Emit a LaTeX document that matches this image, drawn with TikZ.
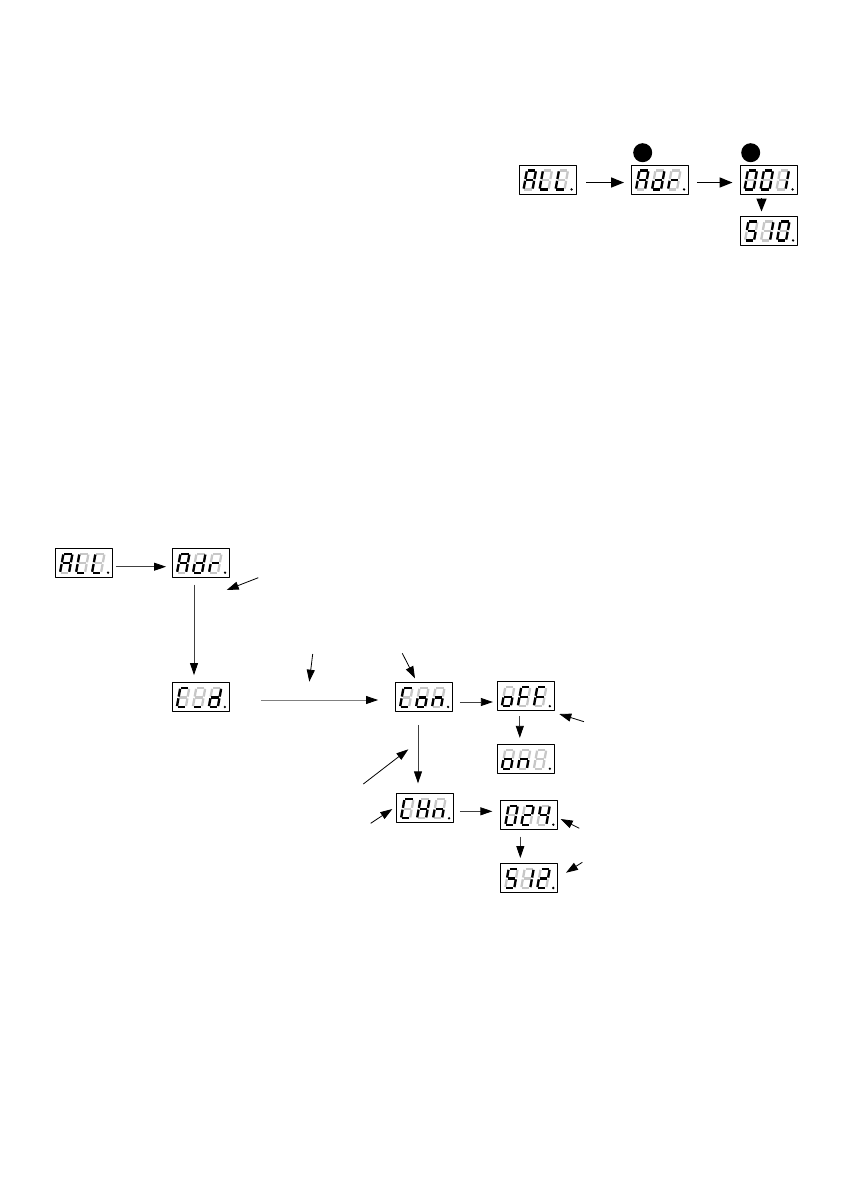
\documentclass[tikz,border=0pt]{standalone}
\usetikzlibrary{arrows.meta,calc}

% one slanted seven-segment digit, #2 = list of lit segments
\newcommand\segdigit[2]{%
  \begin{scope}[shift={#1}, xslant=0.18]
    \foreach \s/\p/\q in {a/{0.9,-19}/{8.1,-19}, b/{9,-18.1}/{9,-10.4},
        c/{9,-8.6}/{9,-0.9}, d/{0.9,0}/{8.1,0}, e/{0,-0.9}/{0,-8.6},
        f/{0,-10.4}/{0,-18.1}, g/{0.9,-9.5}/{8.1,-9.5}}{
      \draw[segoff] (\p) -- (\q);
      \coordinate (\s0) at (\p);
      \coordinate (\s1) at (\q);
    }
    \coordinate (z0) at (0,0); \coordinate (z1) at (0,0);
    \foreach \s in #2 \draw[segon] (\s0) -- (\s1);
  \end{scope}}

% display box with three digits and a point
\newcommand\dispbox[5]{%
  \node[disp] (#1) at (#2) {};
  \segdigit{($(#1.south west)+(5,-5)$)}{#3}
  \segdigit{($(#1.south west)+(21,-5)$)}{#4}
  \segdigit{($(#1.south west)+(37,-5)$)}{#5}
  \fill ($(#1.south west)+(53,-5)$) circle (1.3);}

\newcommand\sgA{a,b,c,e,f,g}
\newcommand\sgL{d,e,f}
\newcommand\sgd{b,c,d,e,g}
\newcommand\sgr{e,g}
\newcommand\sgzero{a,b,c,d,e,f}
\newcommand\sgone{b,c}
\newcommand\sgfive{a,c,d,f,g}
\newcommand\sgC{a,d,e,f}
\newcommand\sgbar{d}
\newcommand\sgo{c,d,e,g}
\newcommand\sgn{c,e,g}
\newcommand\sgF{a,e,f,g}
\newcommand\sgH{b,c,e,f,g}
\newcommand\sgtwo{a,b,d,e,g}
\newcommand\sgfour{b,c,f,g}
\newcommand\sgblank{z}

\begin{document}
\begin{tikzpicture}[x=1pt, y=-1pt, line join=round,
    disp/.style={draw, line width=0.9pt, minimum width=57pt, minimum height=29pt, inner sep=0pt},
    segoff/.style={line width=2.3pt, black!22},
    segon/.style={line width=2.3pt, black},
    btn/.style={circle, fill=black, minimum size=19pt, inner sep=0pt},
    bigarr/.style={line width=1.3pt, -{Triangle[length=13pt,width=10pt]}},
    arr/.style={line width=0.8pt, black!75, -{Triangle[length=12pt,width=8pt,color=black]}}]
\useasboundingbox (0,0) rectangle (842,1191);

% upper sequence
\dispbox{allT}{547.5,179.5}{\sgA}{\sgL}{\sgL}
\dispbox{adrT}{660,179.5}{\sgA}{\sgd}{\sgr}
\dispbox{oneT}{768.5,179.5}{\sgzero}{\sgzero}{\sgone}
\dispbox{tenT}{769,230.5}{\sgfive}{\sgone}{\sgzero}
\node[btn] (btnA) at (642.7,152.7) {};
\node[btn] (btnB) at (750.7,152.7) {};

\draw[bigarr, shorten <=10pt, shorten >=7pt] ([yshift=-3pt]allT.east) -- ([yshift=-3pt]adrT.west);
\draw[bigarr, shorten <=8pt, shorten >=7pt] ([yshift=-3pt]adrT.east) -- ([yshift=-3pt]oneT.west);
\draw[bigarr, shorten <=4pt, shorten >=4pt] ([xshift=-7pt]oneT.south) -- ([xshift=-7pt]oneT.south |- tenT.north);

% lower menu
\dispbox{allB}{84,562.7}{\sgA}{\sgL}{\sgL}
\dispbox{adrB}{201,562.7}{\sgA}{\sgd}{\sgr}
\dispbox{cdB}{200.8,697}{\sgC}{\sgbar}{\sgd}
\dispbox{conB}{424,697}{\sgC}{\sgo}{\sgn}
\dispbox{offB}{525.8,696.2}{\sgo}{\sgF}{\sgF}
\dispbox{onB}{525.8,758.8}{\sgo}{\sgn}{\sgblank}
\dispbox{chnB}{425,808.3}{\sgC}{\sgH}{\sgn}
\dispbox{chB}{529.3,814.7}{\sgzero}{\sgtwo}{\sgfour}
\dispbox{rngB}{529.2,878}{\sgfive}{\sgone}{\sgtwo}

\draw[arr, shorten <=3pt, shorten >=6pt] ([yshift=-4pt]allB.east) -- ([yshift=-4pt]adrB.west);
\draw[arr, shorten <=7pt, shorten >=7pt] ([xshift=-7pt]adrB.south) -- ([xshift=-7pt]adrB.south |- cdB.north);
\draw[arr, black!50, shorten <=31pt, shorten >=17pt] ([yshift=-3pt]cdB.east) -- ([yshift=-3pt]conB.west);
\draw[arr, shorten <=7pt, shorten >=4pt] ([yshift=-5pt]conB.east) -- ([yshift=-5pt]conB.east -| offB.west);
\draw[arr, shorten <=5pt, shorten >=6pt] ([xshift=-6pt]offB.south) -- ([xshift=-6pt]offB.south |- onB.north);
\draw[arr, shorten <=13pt, shorten >=10pt] ([xshift=-6pt]conB.south) -- ([xshift=-6pt]conB.south |- chnB.north);
\draw[arr, shorten <=6pt, shorten >=8pt] ([yshift=-3pt]chnB.east) -- ([yshift=-3pt]chnB.east -| chB.west);
\draw[arr, shorten <=7pt, shorten >=5pt] ([xshift=-9pt]chB.south) -- ([xshift=-9pt]chB.south |- rngB.north);

% pointers with free ends
\foreach \n/\a/\b in {1/{258.3,577.7}/{226.7,590}, 2/{312.7,654}/{309.3,681.7},
    3/{402.3,653.3}/{415,678.3}, 4/{584,721.7}/{559.3,714},
    5/{363.3,784}/{408.3,749.3}, 6/{370.7,823.3}/{392.3,809},
    7/{579.3,828.3}/{560.7,819}, 8/{582.3,862.3}/{566,872.7}}{
  \coordinate (p\n) at (\a);
  \coordinate (q\n) at (\b);
  \draw[arr, black] (p\n) -- (q\n);
}
\end{tikzpicture}
\end{document}
